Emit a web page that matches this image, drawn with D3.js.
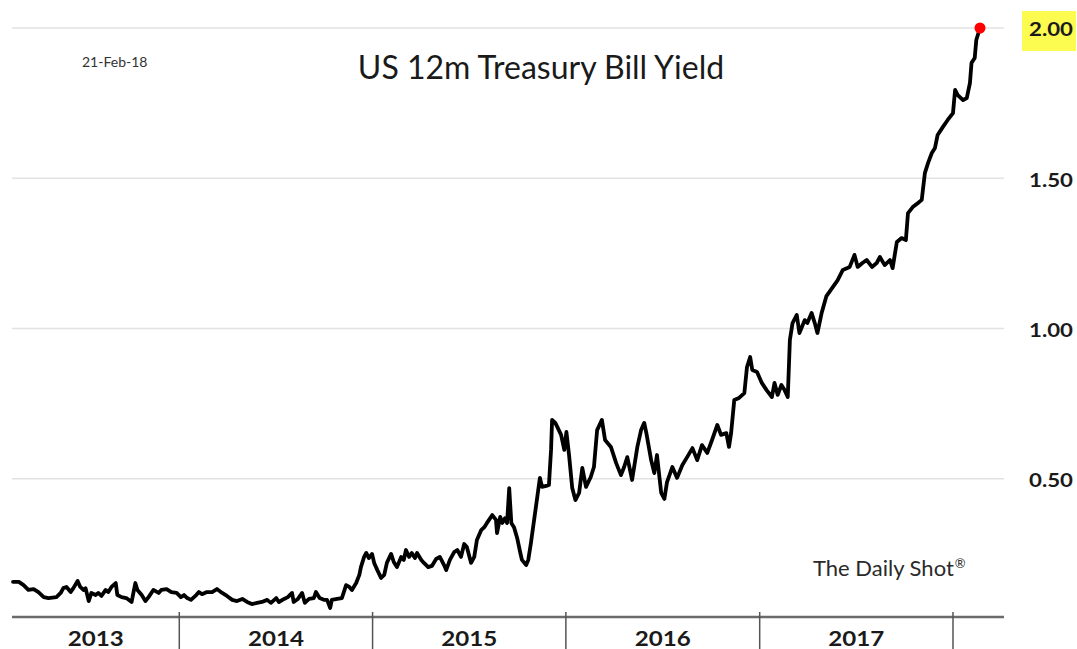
<!DOCTYPE html>
<html>
<head>
<meta charset="utf-8">
<script src="https://cdn.jsdelivr.net/npm/d3@7"></script>
<style>
  html, body { margin: 0; padding: 0; background: #ffffff; }
  svg { display: block; }
</style>
</head>
<body>
<script>
// US 12-month Treasury bill yield (%), observations by year
const yields2013 = [
  ["2013-02-21",0.157],["2013-03-04",0.157],["2013-03-13",0.146],["2013-03-22",0.130],["2013-04-01",0.133],
  ["2013-04-10",0.123],["2013-04-20",0.106],["2013-04-29",0.103],["2013-05-14",0.106],["2013-05-22",0.120],
  ["2013-05-27",0.136],["2013-06-02",0.140],["2013-06-10",0.123],["2013-06-15",0.136],["2013-06-23",0.160],
  ["2013-06-28",0.140],["2013-07-04",0.130],["2013-07-08",0.136],["2013-07-14",0.093],["2013-07-19",0.120],
  ["2013-07-27",0.113],["2013-08-01",0.120],["2013-08-07",0.110],["2013-08-15",0.130],["2013-08-20",0.123],
  ["2013-08-26",0.140],["2013-09-03",0.153],["2013-09-06",0.113],["2013-09-14",0.106],["2013-09-23",0.103],
  ["2013-10-03",0.090],["2013-10-10",0.153],["2013-10-14",0.130],["2013-10-22",0.113],["2013-10-29",0.093],
  ["2013-11-04",0.106],["2013-11-13",0.130],["2013-11-23",0.120],["2013-11-28",0.130],["2013-12-08",0.133],
  ["2013-12-17",0.123],["2013-12-27",0.120]
];
const yields2014 = [
  ["2014-01-04",0.106],["2014-01-10",0.113],["2014-01-16",0.103],["2014-01-23",0.097],["2014-02-02",0.113],
  ["2014-02-07",0.123],["2014-02-13",0.116],["2014-02-22",0.123],["2014-03-04",0.123],["2014-03-13",0.133],
  ["2014-03-23",0.120],["2014-04-01",0.110],["2014-04-11",0.097],["2014-04-20",0.093],["2014-04-30",0.100],
  ["2014-05-09",0.090],["2014-05-18",0.083],["2014-05-28",0.087],["2014-06-06",0.090],["2014-06-16",0.097],
  ["2014-06-23",0.087],["2014-07-03",0.103],["2014-07-08",0.090],["2014-07-18",0.100],["2014-07-25",0.106],
  ["2014-08-02",0.120],["2014-08-05",0.090],["2014-08-13",0.100],["2014-08-21",0.120],["2014-08-26",0.087],
  ["2014-09-03",0.100],["2014-09-12",0.103],["2014-09-16",0.123],["2014-09-23",0.103],["2014-10-01",0.097],
  ["2014-10-07",0.097],["2014-10-13",0.070],["2014-10-16",0.097],["2014-10-26",0.100],["2014-11-04",0.103],
  ["2014-11-12",0.146],["2014-11-18",0.140],["2014-11-23",0.130],["2014-12-01",0.153],["2014-12-07",0.180],
  ["2014-12-10",0.206],["2014-12-16",0.240],["2014-12-20",0.253],["2014-12-25",0.236],["2014-12-31",0.250]
];
const yields2015 = [
  ["2015-01-04",0.220],["2015-01-10",0.196],["2015-01-17",0.170],["2015-01-23",0.180],["2015-01-28",0.220],
  ["2015-02-05",0.250],["2015-02-10",0.223],["2015-02-16",0.206],["2015-02-24",0.240],["2015-03-01",0.230],
  ["2015-03-05",0.263],["2015-03-11",0.240],["2015-03-16",0.253],["2015-03-22",0.236],["2015-03-26",0.253],
  ["2015-04-03",0.230],["2015-04-08",0.220],["2015-04-16",0.206],["2015-04-23",0.210],["2015-05-01",0.233],
  ["2015-05-08",0.240],["2015-05-16",0.213],["2015-05-20",0.196],["2015-05-27",0.230],["2015-06-04",0.256],
  ["2015-06-10",0.263],["2015-06-17",0.240],["2015-06-23",0.283],["2015-06-28",0.273],["2015-07-06",0.220],
  ["2015-07-12",0.240],["2015-07-17",0.296],["2015-07-25",0.329],["2015-07-31",0.339],["2015-08-05",0.353],
  ["2015-08-15",0.379],["2015-08-22",0.363],["2015-08-24",0.319],["2015-08-30",0.373],["2015-09-03",0.353],
  ["2015-09-08",0.369],["2015-09-12",0.353],["2015-09-16",0.469],["2015-09-20",0.353],["2015-09-25",0.339],
  ["2015-10-01",0.303],["2015-10-07",0.253],["2015-10-10",0.230],["2015-10-18",0.213],["2015-10-22",0.230],
  ["2015-10-27",0.286],["2015-11-02",0.363],["2015-11-08",0.439],["2015-11-13",0.503],["2015-11-17",0.473],
  ["2015-11-25",0.476],["2015-11-30",0.479],["2015-12-04",0.596],["2015-12-06",0.696],["2015-12-12",0.686],
  ["2015-12-16",0.672],["2015-12-23",0.646],["2015-12-29",0.596]
];
const yields2016 = [
  ["2016-01-02",0.656],["2016-01-07",0.579],["2016-01-13",0.469],["2016-01-19",0.429],["2016-01-26",0.453],
  ["2016-02-01",0.536],["2016-02-08",0.473],["2016-02-17",0.506],["2016-02-23",0.539],["2016-02-29",0.662],
  ["2016-03-09",0.696],["2016-03-15",0.629],["2016-03-26",0.606],["2016-04-05",0.552],["2016-04-14",0.512],
  ["2016-04-20",0.539],["2016-04-26",0.572],["2016-05-05",0.496],["2016-05-15",0.606],["2016-05-22",0.662],
  ["2016-05-28",0.686],["2016-06-01",0.652],["2016-06-10",0.562],["2016-06-16",0.519],["2016-06-21",0.579],
  ["2016-06-29",0.453],["2016-07-05",0.433],["2016-07-10",0.489],["2016-07-20",0.539],["2016-07-29",0.503],
  ["2016-08-08",0.546],["2016-08-17",0.572],["2016-08-27",0.602],["2016-09-05",0.562],["2016-09-14",0.612],
  ["2016-09-24",0.586],["2016-10-03",0.629],["2016-10-13",0.679],["2016-10-20",0.646],["2016-10-30",0.652],
  ["2016-11-04",0.606],["2016-11-08",0.652],["2016-11-14",0.762],["2016-11-23",0.769],["2016-12-03",0.785],
  ["2016-12-08",0.872],["2016-12-14",0.905],["2016-12-18",0.862],["2016-12-27",0.855]
];
const yields2017 = [
  ["2017-01-05",0.819],["2017-01-14",0.795],["2017-01-24",0.772],["2017-01-29",0.819],["2017-02-04",0.779],
  ["2017-02-11",0.812],["2017-02-17",0.795],["2017-02-23",0.772],["2017-02-27",0.962],["2017-03-04",1.018],
  ["2017-03-12",1.045],["2017-03-17",0.985],["2017-03-27",1.028],["2017-04-01",1.018],["2017-04-09",1.052],
  ["2017-04-15",1.018],["2017-04-20",0.985],["2017-04-28",1.052],["2017-05-07",1.108],["2017-05-19",1.138],
  ["2017-05-28",1.160],["2017-06-07",1.195],["2017-06-20",1.205],["2017-06-29",1.245],["2017-07-05",1.205],
  ["2017-07-14",1.218],["2017-07-22",1.228],["2017-08-01",1.205],["2017-08-10",1.218],["2017-08-16",1.238],
  ["2017-08-25",1.211],["2017-09-04",1.228],["2017-09-09",1.201],["2017-09-17",1.288],["2017-09-26",1.301],
  ["2017-10-04",1.294],["2017-10-08",1.384],["2017-10-17",1.404],["2017-10-27",1.418],["2017-11-03",1.428],
  ["2017-11-09",1.518],["2017-11-15",1.551],["2017-11-22",1.584],["2017-11-28",1.601],["2017-12-03",1.644],
  ["2017-12-13",1.671],["2017-12-22",1.694]
];
const yields2018 = [
  ["2018-01-01",1.717],["2018-01-05",1.794],["2018-01-10",1.777],["2018-01-20",1.760],["2018-01-27",1.767],
  ["2018-02-02",1.817],["2018-02-05",1.884],["2018-02-11",1.900],["2018-02-14",1.960],["2018-02-21",2.000]
];

const yTickValues = [0.5, 1.0, 1.5, 2.0];
const yearBreaks = ["2014-01-01","2015-01-01","2016-01-01","2017-01-01","2018-01-01"];
const yearLabels = ["2013","2014","2015","2016","2017"];
const chartTitle = "US 12m Treasury Bill Yield";
const dateStamp = "21-Feb-18";
const sourceName = "The Daily Shot";
const sourceMark = "\u00AE";

const W = 1077, H = 649;
const plotLeft = 12, plotRight = 1004;
const FONT = "Lato, 'Open Sans', sans-serif";
const parse = d3.timeParse("%Y-%m-%d");

const series = [].concat(yields2013, yields2014, yields2015, yields2016, yields2017, yields2018)
  .map(([d, v]) => ({ date: parse(d), value: v }));

const x = d3.scaleTime()
  .domain(d3.extent(series, d => d.date))
  .range([13, 980]);
const y = d3.scaleLinear()
  .domain([0.04, 2.0])
  .range([617, 28]);

const svg = d3.select("body").append("svg")
  .attr("width", W).attr("height", H)
  .attr("viewBox", `0 0 ${W} ${H}`);

svg.append("rect").attr("width", W).attr("height", H).attr("fill", "#ffffff");

// horizontal gridlines
svg.append("g").selectAll("line")
  .data(yTickValues)
  .join("line")
  .attr("x1", plotLeft).attr("x2", plotRight)
  .attr("y1", d => y(d)).attr("y2", d => y(d))
  .attr("stroke", "#e2e2e2").attr("stroke-width", 1.5);

// right-hand value labels, latest level highlighted
const latest = series[series.length - 1];
const yAxis = svg.append("g")
  .attr("transform", `translate(1074,0)`)
  .call(d3.axisRight(y).tickValues(yTickValues).tickFormat(d3.format(".2f")).tickSize(0));
yAxis.select(".domain").remove();
yAxis.selectAll(".tick").attr("transform", d => `translate(0,${y(d) + 2})`);
yAxis.selectAll(".tick")
  .filter(d => d === latest.value)
  .insert("rect", "text")
  .attr("x", -52).attr("y", -19).attr("width", 54).attr("height", 40)
  .attr("fill", "#fbfb50");
yAxis.selectAll("text")
  .attr("x", -1).attr("dy", "0.36em")
  .attr("text-anchor", "end")
  .attr("fill", "#1a1a1a")
  .attr("textLength", 44)
  .attr("lengthAdjust", "spacingAndGlyphs")
  .style("font-family", FONT)
  .style("font-weight", "bold")
  .style("font-size", "18px");

// bottom axis: baseline, year separators and labels
const axisY = y(0.04);
svg.append("line")
  .attr("x1", plotLeft).attr("x2", plotRight)
  .attr("y1", axisY).attr("y2", axisY)
  .attr("stroke", "#6a6a6a").attr("stroke-width", 2.5);

const breaks = yearBreaks.map(parse);
svg.append("g").selectAll("line")
  .data(breaks)
  .join("line")
  .attr("x1", d => x(d)).attr("x2", d => x(d))
  .attr("y1", axisY - 5).attr("y2", H)
  .attr("stroke", "#555555").attr("stroke-width", 1.5);

const edges = [plotLeft].concat(breaks.map(d => x(d)));
svg.append("g").selectAll("text")
  .data(yearLabels)
  .join("text")
  .attr("x", (d, i) => (edges[i] + edges[i + 1]) / 2 - 28)
  .attr("y", 646)
  .attr("textLength", 56)
  .attr("lengthAdjust", "spacingAndGlyphs")
  .attr("fill", "#1a1a1a")
  .style("font-family", FONT)
  .style("font-weight", "bold")
  .style("font-size", "21px")
  .text(d => d);

// yield line
const line = d3.line()
  .x(d => x(d.date))
  .y(d => y(d.value))
  .curve(d3.curveLinear);
svg.append("path")
  .datum(series)
  .attr("d", line)
  .attr("fill", "none")
  .attr("stroke", "#000000")
  .attr("stroke-width", 3.8)
  .attr("stroke-linejoin", "round")
  .attr("stroke-linecap", "round");

// latest observation marker
svg.append("circle")
  .attr("cx", x(latest.date)).attr("cy", y(latest.value))
  .attr("r", 5.5)
  .attr("fill", "#ff0000");

// title, date stamp and source
svg.append("text")
  .attr("x", 541).attr("y", 79)
  .attr("text-anchor", "middle")
  .attr("fill", "#1a1a1a")
  .style("font-family", FONT)
  .style("font-size", "32px")
  .text(chartTitle);

svg.append("text")
  .attr("x", 82).attr("y", 67)
  .attr("fill", "#333333")
  .style("font-family", FONT)
  .style("font-size", "14px")
  .text(dateStamp);

const src = svg.append("text")
  .attr("x", 813).attr("y", 576)
  .attr("fill", "#2a2a2a")
  .style("font-family", FONT)
  .style("font-size", "22px");
src.append("tspan").text(sourceName);
src.append("tspan")
  .attr("dx", 1).attr("dy", -8)
  .style("font-size", "13px")
  .text(sourceMark);
</script>
</body>
</html>
